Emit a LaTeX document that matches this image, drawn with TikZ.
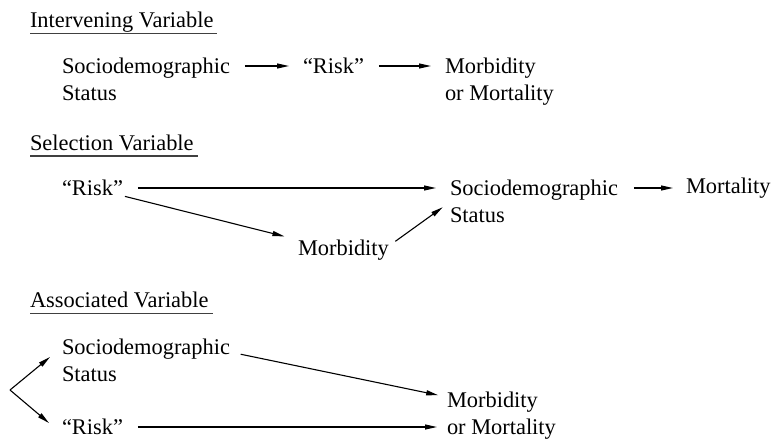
\documentclass[tikz,border=0pt]{standalone}
\usepackage{fontspec}
\setmainfont{Liberation Serif}
\usetikzlibrary{arrows.meta,positioning}

\begin{document}
\begin{tikzpicture}[x=1pt, y=-1pt,
  every node/.style={font=\fontsize{22.4}{27}\selectfont, inner sep=0pt, outer sep=0pt},
  heading/.style={anchor=base west},
  twoline/.style={anchor=north west, align=left},
  link/.style={-{Triangle[length=12pt,width=5pt]}, line width=1.1pt, shorten <=15pt, shorten >=14pt},
  rule/.style={line width=1.2pt, black!75}]
\useasboundingbox (0,0) rectangle (776,439);
% Intervening Variable
\node[heading] (t1) at (30,27.5) {Intervening Variable};
\draw[rule] ([yshift=-6pt]t1.base west) -- ([shift={(4pt,-6pt)}]t1.base east);
\node[twoline] (s1) at (62,58) {Sociodemographic\\Status};
\node[anchor=west] (r1) at (303,66) {“Risk”};
\node[twoline] (m1) at (445,58) {Morbidity\\or Mortality};
\draw[link] ([yshift=-8pt]s1.north east) -- (r1.west);
\draw[link] (r1.east) -- ([yshift=-8pt]m1.north west);
% Selection Variable
\node[heading] (t2) at (30,150) {Selection Variable};
\draw[rule] ([yshift=-6pt]t2.base west) -- ([shift={(4pt,-6pt)}]t2.base east);
\node[anchor=west] (r2) at (62,188) {“Risk”};
\node[twoline] (s2) at (450,180) {Sociodemographic\\Status};
\node[anchor=west] (mt2) at (686,188) {Mortality};
\node[anchor=west] (mb2) at (298,250) {Morbidity};
\draw[link] (r2.east) -- ([yshift=-8pt]s2.north west);
\draw[link, shorten <=2pt] (r2.south east) -- (mb2.north west);
\draw[link, shorten <=8pt, shorten >=9pt] ([yshift=4pt]mb2.east) -- ([yshift=-22pt]s2.north west);
\draw[link, shorten <=16pt, shorten >=13pt] ([yshift=-8pt]s2.north east) -- (mt2.west);
% Associated Variable
\node[heading] (t3) at (30,307.5) {Associated Variable};
\draw[rule] ([yshift=-6pt]t3.base west) -- ([shift={(4pt,-6pt)}]t3.base east);
\node[twoline] (s3) at (62,339) {Sociodemographic\\Status};
\node[anchor=west] (r3) at (62,427) {“Risk”};
\node[twoline] (mb3) at (447,392) {Morbidity\\or Mortality};
\coordinate (fork) at (10,390);
\draw[link, shorten <=11pt, shorten >=9pt] ([yshift=-13pt]s3.north east) -- ([yshift=-5pt]mb3.north west);
\draw[link, shorten >=10pt] (r3.east) -- ([yshift=-35pt]mb3.north west);
\draw[link, shorten <=0pt, shorten >=0pt] (fork) -- ([shift={(-12pt,-18pt)}]s3.north west);
\draw[link, shorten <=0pt, shorten >=0pt] (fork) -- ([shift={(-13pt,4pt)}]r3.west);
\end{tikzpicture}
\end{document}
